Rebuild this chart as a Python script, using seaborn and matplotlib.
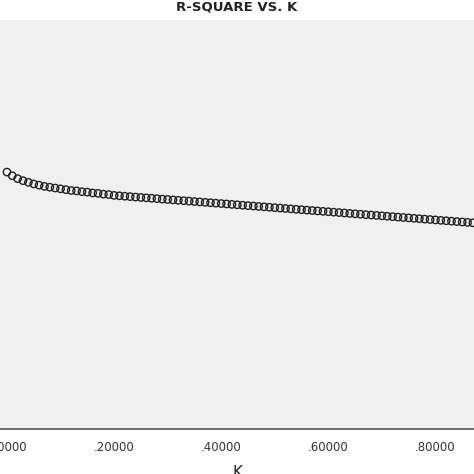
import numpy as np
import pandas as pd
import seaborn as sns
import matplotlib.pyplot as plt

k_values = np.round(np.arange(0, 0.88, 0.01), 2)
r_square = [0.628, 0.619, 0.612, 0.607, 0.603, 0.599, 0.596, 0.593, 0.591, 0.589,
            0.587, 0.585, 0.583, 0.582, 0.580, 0.579, 0.577, 0.576, 0.574, 0.573,
            0.571, 0.570, 0.569, 0.568, 0.567, 0.566, 0.565, 0.564, 0.563, 0.562,
            0.561, 0.560, 0.559, 0.558, 0.557, 0.556, 0.555, 0.554, 0.553, 0.552,
            0.551, 0.550, 0.549, 0.548, 0.547, 0.546, 0.545, 0.544, 0.543, 0.542,
            0.541, 0.540, 0.539, 0.538, 0.537, 0.536, 0.535, 0.534, 0.533, 0.532,
            0.531, 0.530, 0.529, 0.528, 0.527, 0.526, 0.525, 0.524, 0.523, 0.522,
            0.521, 0.520, 0.519, 0.518, 0.517, 0.516, 0.515, 0.514, 0.513, 0.512,
            0.511, 0.510, 0.509, 0.508, 0.507, 0.506, 0.505, 0.504]
x_ticks = [0, 0.2, 0.4, 0.6, 0.8]
x_labels = [".00000", ".20000", ".40000", ".60000", ".80000"]

dat = pd.DataFrame({"K": k_values, "RSQ": r_square})

sns.set_style("white")
fig = plt.figure(figsize=(4.74, 4.74), dpi=100)
ax = fig.add_axes([0.0, 0.095, 1.0, 0.863])
ax.set_facecolor("#f0f0f0")

sns.scatterplot(data=dat, x="K", y="RSQ", ax=ax, s=28, marker="o",
                facecolor="none", edgecolor="#222222", linewidth=1.0)

ax.set_xlim(-0.013, 0.872)
ax.set_ylim(0, 1)
ax.set_xticks(x_ticks)
ax.set_xticklabels(x_labels, fontsize=8.5, color="#333333")
ax.set_yticks([])
ax.tick_params(axis="x", direction="out", length=5, width=1, color="#444444")
ax.set_xlabel("K", fontsize=11, color="#222222", labelpad=8)
ax.set_ylabel("")
for side in ["left", "right", "top"]:
    ax.spines[side].set_visible(False)
ax.spines["bottom"].set_color("#555555")
ax.spines["bottom"].set_linewidth(1.2)

fig.suptitle("R-SQUARE VS. K", fontsize=9.5, fontweight="bold", y=1.0, color="#222222")
fig.savefig("out.png", dpi=100)
